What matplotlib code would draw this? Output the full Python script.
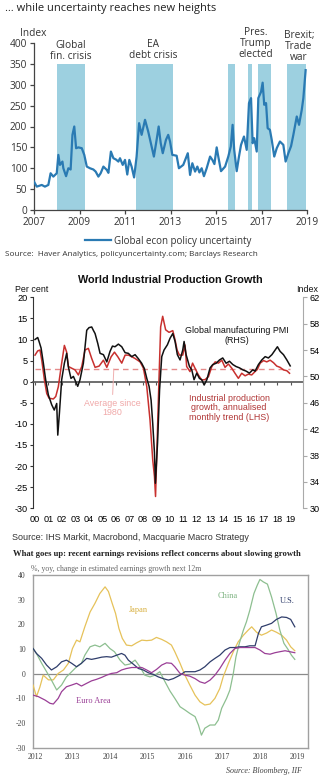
import numpy as np
import matplotlib
matplotlib.use("Agg")
import matplotlib.pyplot as plt

plt.rcParams['axes.unicode_minus'] = False

W, H = 329, 777

# ---- policy uncertainty (top panel) ----
epu_year = [2007.0, 2007.12, 2007.34, 2007.48, 2007.63, 2007.73, 2007.85, 2008.0, 2008.07, 2008.14,
            2008.25, 2008.29, 2008.41, 2008.51, 2008.61, 2008.69, 2008.77, 2008.85, 2008.95, 2009.1,
            2009.21, 2009.32, 2009.46, 2009.61, 2009.71, 2009.83, 2009.93, 2010.05, 2010.2, 2010.27,
            2010.38, 2010.49, 2010.6, 2010.71, 2010.78, 2010.9, 2011.0, 2011.1, 2011.19, 2011.29,
            2011.4, 2011.51, 2011.62, 2011.73, 2011.88, 2012.02, 2012.17, 2012.27, 2012.39, 2012.48,
            2012.57, 2012.66, 2012.8, 2012.9, 2012.98, 2013.08, 2013.27, 2013.37, 2013.56, 2013.76,
            2013.86, 2013.96, 2014.08, 2014.18, 2014.27, 2014.37, 2014.47, 2014.59, 2014.74, 2014.84,
            2014.93, 2015.03, 2015.1, 2015.22, 2015.4, 2015.54, 2015.65, 2015.73, 2015.8, 2015.91,
            2016.01, 2016.1, 2016.23, 2016.35, 2016.45, 2016.54, 2016.61, 2016.68, 2016.79, 2016.86,
            2016.98, 2017.05, 2017.12, 2017.2, 2017.27, 2017.37, 2017.45, 2017.56, 2017.67, 2017.81,
            2017.96, 2018.06, 2018.18, 2018.3, 2018.4, 2018.55, 2018.65, 2018.77, 2018.84, 2018.94]
epu_value = [68, 56, 60, 56, 60, 88, 80, 88, 132, 108,
             116, 100, 81, 100, 97, 180, 200, 148, 150, 148,
             132, 104, 100, 97, 92, 80, 88, 104, 96, 89,
             140, 124, 121, 116, 124, 108, 120, 85, 120, 104,
             78, 128, 208, 180, 216, 188, 152, 128, 168, 200,
             160, 136, 168, 180, 164, 132, 130, 100, 108, 136,
             84, 112, 92, 104, 90, 100, 81, 100, 128, 120,
             110, 150, 128, 93, 104, 128, 152, 204, 144, 93,
             128, 156, 176, 144, 256, 268, 160, 172, 140, 268,
             283, 305, 252, 256, 196, 192, 168, 128, 148, 164,
             156, 116, 136, 153, 180, 224, 204, 240, 268, 335]
episode_start = [2008.0, 2011.5, 2015.51, 2016.42, 2016.86, 2018.1]
episode_end = [2009.25, 2013.1, 2015.83, 2016.57, 2017.4, 2018.96]
episode_labels = ["Global\nfin. crisis", "EA\ndebt crisis", "Pres.\nTrump\nelected", "Brexit;\nTrade\nwar"]
episode_label_x = [2008.63, 2012.23, 2016.76, 2018.65]
episode_label_y = [382, 384, 398, 392]
shade_top = 350

# ---- world industrial production (middle panel) ----
ip_year = [2000.0, 2000.2, 2000.37, 2000.5, 2000.7, 2000.87, 2001.04, 2001.36, 2001.54, 2001.73,
           2001.98, 2002.18, 2002.35, 2002.48, 2002.72, 2002.97, 2003.22, 2003.47, 2003.71, 2003.96,
           2004.21, 2004.46, 2004.76, 2005.08, 2005.33, 2005.65, 2005.9, 2006.15, 2006.44, 2006.69,
           2006.94, 2007.19, 2007.43, 2007.8, 2008.05, 2008.3, 2008.54, 2008.74, 2008.87, 2008.95,
           2009.2, 2009.33, 2009.48, 2009.7, 2009.95, 2010.23, 2010.4, 2010.55, 2010.72, 2010.97,
           2011.14, 2011.26, 2011.51, 2011.7, 2011.88, 2012.13, 2012.38, 2012.63, 2012.88, 2013.13,
           2013.38, 2013.62, 2013.87, 2014.11, 2014.36, 2014.61, 2014.85, 2015.1, 2015.35, 2015.6,
           2015.85, 2016.09, 2016.34, 2016.51, 2016.72, 2016.97, 2017.21, 2017.46, 2017.71, 2017.95,
           2018.2, 2018.45, 2018.7, 2018.9]
ip_growth = [6.3, 7.3, 7.5, 5.1, 0.4, -2.8, -3.9, -4.1, -3.5, -1.2,
             4.4, 8.6, 7.0, 3.6, 3.2, 2.8, 1.6, 3.6, 7.5, 7.9,
             5.5, 3.4, 3.7, 5.1, 3.4, 5.9, 7.0, 5.9, 4.4, 6.3,
             6.3, 5.9, 5.5, 4.7, 3.2, -1.2, -9.1, -18.5, -22.5, -27.2,
             0.0, 13.0, 15.5, 12.3, 11.7, 12.1, 9.9, 7.5, 6.3, 6.3,
             8.7, 3.6, 2.4, 4.4, 3.2, 1.6, 0.4, 0.5, 1.2, 3.6,
             4.7, 4.4, 5.1, 3.4, 4.2, 3.2, 2.0, 0.8, 2.0, 1.4,
             1.8, 1.6, 2.4, 2.9, 4.4, 5.0, 4.7, 5.1, 4.5, 3.7,
             3.4, 2.8, 2.6, 2.0]
pmi_year = [2000.0, 2000.2, 2000.3, 2000.45, 2000.62, 2000.79, 2000.99, 2001.24, 2001.43, 2001.61,
            2001.69, 2001.81, 2001.98, 2002.18, 2002.35, 2002.48, 2002.67, 2002.85, 2003.02, 2003.17,
            2003.34, 2003.59, 2003.84, 2004.01, 2004.21, 2004.33, 2004.46, 2004.66, 2004.83, 2005.08,
            2005.33, 2005.57, 2005.75, 2005.94, 2006.19, 2006.44, 2006.69, 2006.93, 2007.18, 2007.43,
            2007.67, 2007.92, 2008.12, 2008.3, 2008.47, 2008.62, 2008.74, 2008.87, 2008.94, 2009.1,
            2009.25, 2009.41, 2009.58, 2009.83, 2010.03, 2010.23, 2010.4, 2010.57, 2010.77, 2010.97,
            2011.07, 2011.22, 2011.47, 2011.64, 2011.81, 2012.01, 2012.21, 2012.38, 2012.56, 2012.76,
            2013.0, 2013.2, 2013.45, 2013.7, 2013.94, 2014.19, 2014.44, 2014.69, 2014.93, 2015.18,
            2015.43, 2015.68, 2015.92, 2016.17, 2016.34, 2016.59, 2016.84, 2017.09, 2017.33, 2017.59,
            2017.83, 2018.0, 2018.2, 2018.45, 2018.7, 2018.95]
pmi_index = [55.6, 55.9, 55.3, 54.3, 52.0, 49.5, 47.2, 45.7, 44.9, 45.9,
             41.1, 44.4, 49.5, 52.0, 53.5, 51.4, 49.7, 50.0, 49.2, 48.5,
             49.5, 52.0, 57.0, 57.4, 57.5, 57.0, 56.5, 55.0, 53.5, 53.3,
             52.2, 53.8, 54.6, 54.5, 54.9, 54.5, 53.6, 53.5, 53.0, 53.3,
             52.7, 52.0, 51.2, 49.7, 48.5, 46.4, 42.9, 38.4, 33.8, 40.0,
             48.0, 53.0, 54.0, 54.8, 55.8, 56.5, 55.3, 53.3, 52.5, 54.0,
             55.3, 53.3, 51.5, 51.0, 49.5, 50.5, 49.7, 49.5, 48.7, 49.5,
             51.3, 51.8, 52.0, 52.5, 52.8, 52.0, 52.3, 51.8, 51.5, 51.3,
             51.0, 50.8, 50.5, 51.0, 50.8, 51.8, 52.5, 53.0, 52.8, 53.3,
             54.0, 54.5, 53.8, 53.3, 52.5, 51.6]
avg_since_1980 = 3.0
ip_years_axis = list(range(2000, 2020))
ip_year_labels = ["%02d" % (y % 100) for y in ip_years_axis]

# ---- earnings revisions (bottom panel) ----
japan_year = [2011.95, 2012.04, 2012.13, 2012.22, 2012.36, 2012.49, 2012.62, 2012.76, 2012.89, 2013.0,
              2013.11, 2013.2, 2013.33, 2013.47, 2013.6, 2013.73, 2013.87, 2013.96, 2014.06, 2014.15,
              2014.24, 2014.33, 2014.44, 2014.58, 2014.71, 2014.85, 2014.98, 2015.11, 2015.24, 2015.38,
              2015.51, 2015.64, 2015.73, 2015.87, 2016.0, 2016.13, 2016.27, 2016.4, 2016.53, 2016.67,
              2016.8, 2016.93, 2017.02, 2017.16, 2017.29, 2017.42, 2017.56, 2017.69, 2017.78, 2017.91,
              2018.04, 2018.18, 2018.31, 2018.44, 2018.58, 2018.71, 2018.82, 2018.93]
japan = [-4.6, -9.3, -5.5, -0.6, -2.5, -2.5, 0.1, 1.5, 4.2, 10.2,
         13.6, 12.9, 19.0, 25.0, 28.5, 32.5, 35.2, 33.3, 28.5, 24.4,
         18.3, 14.3, 11.6, 11.3, 12.5, 13.6, 13.4, 13.6, 14.7, 13.9,
         12.9, 11.6, 8.9, 4.2, -0.6, -4.6, -8.7, -11.4, -12.7, -12.3,
         -10.0, -6.0, -1.3, 4.2, 8.9, 12.9, 15.6, 17.7, 19.0, 16.8,
         15.6, 16.5, 17.7, 16.8, 15.6, 13.6, 10.9, 9.3]
china_year = [2011.95, 2012.04, 2012.18, 2012.31, 2012.44, 2012.58, 2012.71, 2012.84, 2012.98, 2013.11,
              2013.24, 2013.33, 2013.47, 2013.6, 2013.73, 2013.87, 2014.0, 2014.12, 2014.27, 2014.4,
              2014.53, 2014.67, 2014.8, 2014.93, 2015.07, 2015.2, 2015.33, 2015.47, 2015.6, 2015.73,
              2015.87, 2016.0, 2016.13, 2016.27, 2016.36, 2016.44, 2016.53, 2016.67, 2016.8, 2016.89,
              2016.98, 2017.11, 2017.2, 2017.29, 2017.36, 2017.45, 2017.56, 2017.64, 2017.73, 2017.84,
              2017.93, 2018.0, 2018.09, 2018.2, 2018.31, 2018.43, 2018.53, 2018.64, 2018.76, 2018.84,
              2018.93]
china = [10.2, 8.2, 4.2, 0.8, -2.6, -6.6, -4.6, -1.3, 0.8, 2.8,
         4.2, 7.5, 10.9, 11.6, 10.9, 12.3, 10.2, 8.9, 5.5, 3.5,
         3.9, 5.5, 2.8, -0.6, -1.3, -0.6, 0.8, -3.3, -7.0, -10.0,
         -13.4, -14.7, -16.1, -17.4, -20.8, -24.9, -22.1, -20.8, -20.8, -18.8,
         -14.0, -10.0, -6.6, 0.1, 6.8, 12.3, 17.7, 21.0, 25.7, 32.5,
         35.9, 38.2, 37.2, 36.3, 31.1, 24.4, 17.7, 12.3, 9.6, 7.5,
         5.8]
us_year = [2011.95, 2012.04, 2012.18, 2012.31, 2012.44, 2012.58, 2012.71, 2012.84, 2012.98, 2013.11,
           2013.24, 2013.38, 2013.51, 2013.64, 2013.78, 2013.91, 2014.04, 2014.18, 2014.31, 2014.4,
           2014.49, 2014.62, 2014.76, 2014.89, 2015.02, 2015.16, 2015.29, 2015.42, 2015.56, 2015.69,
           2015.87, 2016.0, 2016.13, 2016.27, 2016.4, 2016.53, 2016.67, 2016.8, 2016.93, 2017.07,
           2017.2, 2017.33, 2017.47, 2017.6, 2017.73, 2017.87, 2017.96, 2018.04, 2018.18, 2018.31,
           2018.44, 2018.58, 2018.71, 2018.82, 2018.93]
us = [10.2, 8.2, 6.2, 3.5, 1.5, 2.8, 4.8, 5.5, 4.2, 2.8,
      4.2, 6.2, 5.8, 6.2, 6.7, 6.9, 6.7, 7.5, 8.2, 7.5,
      5.5, 3.9, 2.1, 1.5, 0.4, -0.3, -1.3, -2.0, -2.6, -2.0,
      -0.6, 0.8, 0.8, 0.8, 1.5, 2.8, 4.8, 6.2, 7.5, 9.6,
      10.6, 10.6, 10.9, 10.9, 11.3, 11.3, 16.3, 19.0, 19.7, 20.4,
      22.0, 23.0, 22.8, 22.0, 19.0]
euro_year = [2011.95, 2012.09, 2012.27, 2012.4, 2012.49, 2012.62, 2012.71, 2012.84, 2012.98, 2013.11,
             2013.24, 2013.38, 2013.51, 2013.64, 2013.78, 2013.91, 2014.04, 2014.18, 2014.31, 2014.44,
             2014.58, 2014.71, 2014.85, 2014.98, 2015.11, 2015.24, 2015.38, 2015.51, 2015.64, 2015.73,
             2015.87, 2016.0, 2016.13, 2016.27, 2016.4, 2016.53, 2016.67, 2016.8, 2016.93, 2017.07,
             2017.2, 2017.33, 2017.47, 2017.6, 2017.73, 2017.87, 2018.0, 2018.13, 2018.27, 2018.4,
             2018.53, 2018.67, 2018.8, 2018.93]
euro = [-8.7, -9.3, -10.7, -12.0, -12.3, -10.0, -7.3, -5.3, -4.6, -3.9,
        -5.0, -3.9, -2.9, -2.3, -1.5, -0.6, 0.1, 0.4, 1.5, 2.1,
        2.5, 2.5, 2.5, 1.5, 0.4, 1.7, 3.5, 4.4, 4.2, 2.8,
        0.1, -0.6, -1.0, -2.0, -3.3, -3.9, -2.6, -0.6, 2.1, 5.5,
        8.2, 10.2, 10.6, 10.6, 10.6, 10.6, 9.6, 8.2, 7.9, 8.5,
        8.9, 9.3, 8.9, 8.5]
earn_years = list(range(2012, 2020))


def box(left, top, right, bottom):
    return [left / W, 1 - bottom / H, (right - left) / W, (bottom - top) / H]


def fy(y):
    return 1 - y / H


fig = plt.figure(figsize=(W / 100, H / 100), dpi=100)

# ================= top: uncertainty =================
sans1 = "Open Sans"
txt1 = "#333333"
ax1 = fig.add_axes(box(34, 43, 307, 210))
for s, e in zip(episode_start, episode_end):
    ax1.axvspan(s, e, 0, shade_top / 400, color="#9dd0e0", lw=0, zorder=1)
ax1.plot(epu_year, epu_value, color="#2a7ab3", lw=1.6, zorder=3,
         label="Global econ policy uncertainty")
ax1.set_xlim(2007, 2019)
ax1.set_ylim(0, 400)
ax1.set_xticks(range(2007, 2020, 2))
ax1.set_yticks(range(0, 401, 50))
for sp in ["top", "right"]:
    ax1.spines[sp].set_visible(False)
for sp in ["left", "bottom"]:
    ax1.spines[sp].set_color("#444444")
    ax1.spines[sp].set_linewidth(0.9)
ax1.tick_params(direction="out", length=3, width=0.9, color="#444444",
                labelsize=7.3, labelcolor=txt1, pad=2)
for lab in ax1.get_xticklabels() + ax1.get_yticklabels():
    lab.set_family(sans1)
for lbl, x, y in zip(episode_labels, episode_label_x, episode_label_y):
    ax1.text(x, y, lbl, ha="center", va="center", fontsize=7.3, family=sans1,
             color=txt1, linespacing=1.0, clip_on=False)
leg = ax1.legend(loc="upper center", bbox_to_anchor=(168 / W, fy(227)),
                 bbox_transform=fig.transFigure, frameon=False, handlelength=2.7,
                 handletextpad=0.3, prop={"family": sans1, "size": 7})
for t in leg.get_texts():
    t.set_color(txt1)
fig.text(5 / W, fy(9), "\u2026 while uncertainty reaches new heights", fontsize=8.0,
         family=sans1, color="#222222", va="center")
fig.text(20 / W, fy(33), "Index", fontsize=7.3, family=sans1, color=txt1, va="center")
fig.text(5 / W, fy(255), "Source:  Haver Analytics, policyuncertainty.com; Barclays Research",
         fontsize=5.9, family=sans1, color=txt1, va="center")

# ================= middle: industrial production =================
sans2 = "Liberation Sans"
ax2 = fig.add_axes(box(33, 297.3, 303, 508.3))
ax2.set_xlim(1999.85, 2019.9)
ax2.set_ylim(-30, 20)
ax2.hlines(avg_since_1980, ip_year[0], ip_year[-1], colors="#e58a8a", lw=1.0,
           linestyles=(0, (4, 3)), zorder=2)
ax2.plot(ip_year, ip_growth, color="#c8302e", lw=1.1, zorder=3)
ax2.set_yticks(range(-30, 21, 5))
ax2.spines["top"].set_visible(False)
ax2.spines["right"].set_visible(False)
ax2.spines["left"].set_color("#333333")
ax2.spines["bottom"].set_position(("data", 0))
ax2.spines["bottom"].set_color("#555555")
ax2.spines["bottom"].set_linewidth(1.2)
ax2.set_xticks(ip_years_axis)
ax2.tick_params(axis="x", direction="out", length=2.5, width=0.8, color="#555555",
                labelbottom=False)
ax2.tick_params(axis="y", direction="out", length=2.5, width=0.8, color="#333333",
                labelsize=6.6, pad=1.5)
for lab in ax2.get_yticklabels():
    lab.set_family(sans2)

secx = ax2.secondary_xaxis("bottom")
secx.set_xticks(ip_years_axis, ip_year_labels)
secx.spines["bottom"].set_visible(False)
secx.tick_params(length=0, labelsize=6.6, pad=5)
for lab in secx.get_xticklabels():
    lab.set_family(sans2)

ax2r = ax2.twinx()
ax2r.set_ylim(30, 62)
ax2r.set_yticks(range(30, 63, 4))
ax2r.plot(pmi_year, pmi_index, color="#111111", lw=1.1, zorder=4)
for sp in ["top", "left", "bottom"]:
    ax2r.spines[sp].set_visible(False)
ax2r.spines["right"].set_color("#aaaaaa")
ax2r.tick_params(axis="y", direction="out", length=3, width=0.8, color="#aaaaaa",
                 labelsize=6.6, pad=2)
for lab in ax2r.get_yticklabels():
    lab.set_family(sans2)

ax2.annotate("Average since\n1980", xy=(2005.85, avg_since_1980), xytext=(2005.72, -6.2),
             ha="center", va="center", fontsize=6.4, family=sans2, color="#f0a8a8",
             linespacing=1.05,
             arrowprops=dict(arrowstyle="-", color="#f0b0b0", lw=0.7, shrinkA=1, shrinkB=0))
ax2r.text(2015.0, 56.2, "Global manufacturing PMI\n(RHS)", ha="center", va="center",
          fontsize=6.4, family=sans2, color="#111111", linespacing=1.1, zorder=6)
ax2.text(2014.41, -6.2, "Industrial production\ngrowth, annualised\nmonthly trend (LHS)",
         ha="center", va="center", fontsize=6.4, family=sans2, color="#b03535", linespacing=1.05)
fig.text(170 / W, fy(280), "World Industrial Production Growth", ha="center", va="center",
         fontsize=7.8, fontweight="bold", family=sans2, color="#111111")
fig.text(15 / W, fy(289), "Per cent", fontsize=6.4, family=sans2, color="#111111", va="center")
fig.text(318 / W, fy(289), "Index", fontsize=6.4, family=sans2, color="#111111",
         va="center", ha="right")
fig.text(12 / W, fy(537), "Source: IHS Markit, Macrobond, Macquarie Macro Strategy",
         fontsize=6.5, family=sans2, color="#333333", va="center")

# ================= bottom: earnings revisions =================
serif = "Liberation Serif"
ax3 = fig.add_axes(box(32.7, 575, 308.3, 747.7))
ax3.set_xlim(2011.94, 2019.29)
ax3.set_ylim(-30, 40)
ax3.axhline(0, color="#8a8a8a", lw=0.9, zorder=1)
ax3.plot(japan_year, japan, color="#e6c25a", lw=0.9, zorder=3)
ax3.plot(china_year, china, color="#8dbf90", lw=0.9, zorder=3)
ax3.plot(us_year, us, color="#2f3d6b", lw=0.9, zorder=3)
ax3.plot(euro_year, euro, color="#9a3e96", lw=0.9, zorder=3)
for sp in ax3.spines.values():
    sp.set_color("#a0a0a0")
    sp.set_linewidth(1.0)
ax3.set_xticks(earn_years)
ax3.set_yticks(range(-30, 41, 10))
ax3.tick_params(length=0, labelsize=5.6, labelcolor="#444444")
ax3.tick_params(axis="y", pad=5)
ax3.tick_params(axis="x", pad=4)
for lab in ax3.get_xticklabels() + ax3.get_yticklabels():
    lab.set_family(serif)
ax3.text(2014.75, 25.7, "Japan", color="#d8b040", fontsize=6, family=serif, ha="center", va="center")
ax3.text(2017.15, 31.4, "China", color="#7fb482", fontsize=6, family=serif, ha="center", va="center")
ax3.text(2018.72, 29.5, "U.S.", color="#2f3d6b", fontsize=6, family=serif, ha="center", va="center")
ax3.text(2013.55, -11.0, "Euro Area", color="#9a3e96", fontsize=6, family=serif, ha="center", va="center")
fig.text(13 / W, fy(554),
         "What goes up: recent earnings revisions reflect concerns about slowing growth",
         fontsize=6.2, fontweight="bold", family=serif, color="#222222", va="center")
fig.text(31 / W, fy(569), "%, yoy, change in estimated earnings growth next 12m",
         fontsize=5.6, family=serif, color="#666666", va="center")
fig.text(301.7 / W, fy(770.7), "Source: Bloomberg, IIF", fontsize=5.8, family=serif,
         style="italic", color="#444444", va="center", ha="right")

fig.savefig("out.png", dpi=100)
